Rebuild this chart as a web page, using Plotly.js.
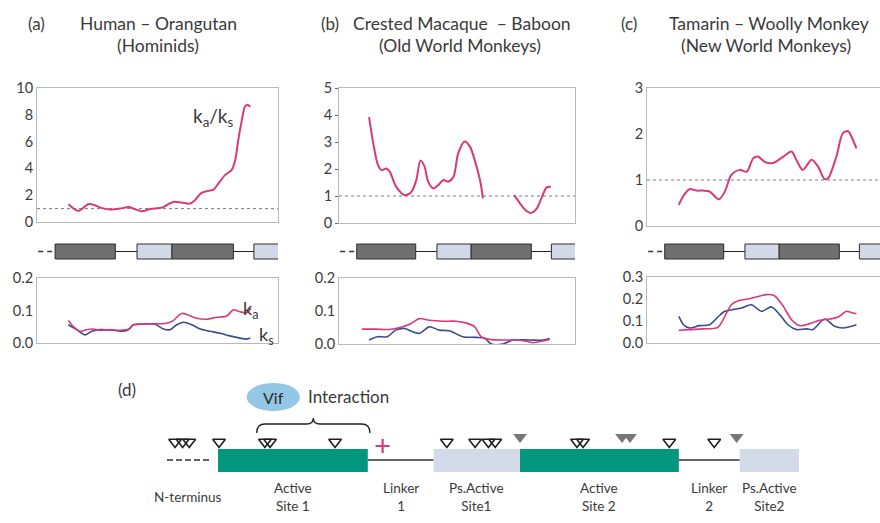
<!DOCTYPE html>
<html>
<head>
<meta charset="utf-8">
<script src="https://cdn.plot.ly/plotly-3.0.1.min.js"></script>
<style>html,body{margin:0;padding:0;background:#fff;}#chart{width:880px;height:523px;}</style>
</head>
<body>
<div id="chart"></div>
<script>
// ---------- Data ----------
// Panel (a) Human - Orangutan
const aRatioX = [52,69,85,96,105,121,138,152,160,174,188,207,215,226,240,254,262,273,284,293,301,312,323,329,334,340,345,349,354];
const aRatioY = [1.33,0.83,1.33,1.25,1.07,0.93,1.0,1.12,1.0,0.8,0.97,1.07,1.25,1.5,1.45,1.37,1.62,2.17,2.32,2.42,2.87,3.5,3.87,4.62,6.1,7.6,8.6,8.75,8.6];
const aKaX = [52,60,71,82,93,105,121,138,152,160,176,193,215,226,240,251,265,282,298,315,326,337,348,355];
const aKaY = [0.069,0.051,0.036,0.041,0.043,0.039,0.041,0.039,0.043,0.056,0.058,0.059,0.061,0.069,0.091,0.086,0.076,0.073,0.079,0.083,0.102,0.096,0.093,0.107];
const aKsX = [52,66,80,91,105,127,143,152,160,176,196,210,221,232,243,257,271,287,304,320,337,348,354];
const aKsY = [0.056,0.041,0.025,0.036,0.041,0.039,0.036,0.041,0.056,0.058,0.058,0.043,0.041,0.056,0.064,0.056,0.043,0.036,0.030,0.022,0.015,0.012,0.015];

// Panel (b) Crested Macaque - Baboon (gap where ratio undefined)
const bRatioX = [51,58,66,72,80,86,97,112,123,131,138,145,151,160,168,177,185,194,202,213,222,230,239,244,270,297,307,315,325,335,344,352,359];
const bRatioY = [3.92,2.96,2.15,1.96,2.02,1.9,1.34,1.03,1.16,1.59,2.31,2.09,1.53,1.28,1.4,1.59,1.53,1.71,2.58,3.02,2.83,2.33,1.59,0.91,null,1.03,0.72,0.5,0.37,0.53,0.97,1.32,1.34];
const bKaX = [39,62,85,108,122,136,153,176,198,215,230,241,255,283,306,329,346,357];
const bKaY = [0.045,0.045,0.044,0.052,0.062,0.077,0.072,0.069,0.069,0.064,0.052,0.022,0.014,0.012,0.012,0.004,0.009,0.014];
const bKsX = [51,65,82,96,111,125,136,153,170,187,210,232,247,258,278,295,323,346,357];
const bKsY = [0.012,0.022,0.022,0.042,0.047,0.037,0.032,0.052,0.042,0.04,0.022,0.02,0.017,0.0,0.0,0.012,0.012,0.012,0.017];

// Panel (c) Tamarin - Woolly Monkey
const cRatioX = [54,61,72,84,95,106,122,132,143,157,169,180,188,200,214,231,245,253,264,279,290,301,307,321,332,341,349,355];
const cRatioY = [0.46,0.64,0.8,0.77,0.77,0.75,0.58,0.75,1.11,1.22,1.18,1.47,1.51,1.39,1.37,1.51,1.62,1.44,1.22,1.44,1.29,1.02,1.04,1.51,2.02,2.06,1.87,1.69];
const cKaX = [54,72,95,120,132,143,157,171,185,202,216,231,245,259,276,293,310,324,338,346,355];
const cKaY = [0.058,0.061,0.064,0.071,0.121,0.174,0.194,0.2,0.209,0.22,0.215,0.167,0.106,0.079,0.088,0.103,0.109,0.118,0.144,0.139,0.133];
const cKsX = [54,62,72,89,106,120,132,146,160,177,194,211,225,239,253,270,281,301,318,332,355];
const cKsY = [0.121,0.083,0.068,0.079,0.083,0.118,0.144,0.152,0.159,0.174,0.144,0.164,0.129,0.083,0.061,0.064,0.061,0.109,0.076,0.068,0.083];

// Gene schematic above k plots (same axis units as the curves)
const geneLeader = [2, 26];
const geneStart = [30, 166, 224, 360];
const geneEnd   = [130, 224, 326, 402];
const geneKind  = ['active','pseudo','active','pseudo'];

// Panel (d) domain map (residue units)
const dLabels = ['N-terminus','Active<br>Site 1','Linker<br>1','Ps.Active<br>Site1','Active<br>Site 2','Linker<br>2','Ps.Active<br>Site2'];
const dStart  = [0, 31, 122, 162, 214.5, 311, 348];
const dEnd    = [26, 122, 162, 214.5, 311, 348, 384];
const dKind   = ['dash','active','linker','pseudo','active','linker','pseudo'];
const openTriX   = [4.9, 9.5, 13.5, 31.6, 59.5, 62.6, 102.1, 170, 187.2, 195.3, 199.4, 249.1, 252.8, 305.2, 332.5];
const filledTriX = [214.5, 276.5, 281.3, 346.1];
const crossX = [131];
const vifRange = [54.5, 123.3];

const panelTags = ['(a)','(b)','(c)'];
const panelLine1 = ['Human – Orangutan','Crested Macaque\u00a0 – Baboon','Tamarin – Woolly Monkey'];
const panelLine2 = ['(Hominids)','(Old World Monkeys)','(New World Monkeys)'];

// ---------- Styling / layout helpers ----------
const W = 880, H = 523;
const PINK = '#d8397a', BLUE = '#3c4a8e', TXT = '#3a3a3a', FRAME = '#b9b9b9';
const GREEN = '#03977f', PALE = '#d3dae8';
const FONT = 'Lato, "Open Sans", sans-serif';
const px = v => v / W;
const py = v => 1 - v / H;
const aaPerPx = 384 / 632;
const dOrigin = 167;

const traces = [];
function line(x, y, xa, ya, color, width) {
  traces.push({x, y, xaxis: xa, yaxis: ya, type: 'scatter', mode: 'lines',
    line: {color, width, shape: 'spline', smoothing: 0.8}, connectgaps: false, hoverinfo: 'skip', showlegend: false});
}
line(aRatioX, aRatioY, 'x', 'y', PINK, 2);
line(bRatioX, bRatioY, 'x2', 'y2', PINK, 2);
line(cRatioX, cRatioY, 'x3', 'y3', PINK, 2);
line(aKsX, aKsY, 'x4', 'y4', BLUE, 1.6);
line(aKaX, aKaY, 'x4', 'y4', PINK, 1.6);
line(bKsX, bKsY, 'x5', 'y5', BLUE, 1.6);
line(bKaX, bKaY, 'x5', 'y5', PINK, 1.6);
line(cKsX, cKsY, 'x6', 'y6', BLUE, 1.6);
line(cKaX, cKaY, 'x6', 'y6', PINK, 1.6);

// Panel (d) markers
traces.push({x: openTriX, y: openTriX.map(() => 442), xaxis: 'x7', yaxis: 'y7', type: 'scatter', mode: 'markers',
  marker: {symbol: 'triangle-down-open', size: 11, color: '#1e1e1e', line: {width: 1.6}}, hoverinfo: 'skip', showlegend: false});
traces.push({x: filledTriX, y: filledTriX.map(() => 437), xaxis: 'x7', yaxis: 'y7', type: 'scatter', mode: 'markers',
  marker: {symbol: 'triangle-down', size: 12, color: '#777777'}, hoverinfo: 'skip', showlegend: false});
traces.push({x: crossX, y: crossX.map(() => 446), xaxis: 'x7', yaxis: 'y7', type: 'scatter', mode: 'markers',
  marker: {symbol: 'cross-thin', size: 10, color: PINK, line: {color: PINK, width: 2.2}}, hoverinfo: 'skip', showlegend: false});

// ---------- Shapes ----------
const shapes = [];
// dotted ratio = 1 reference lines
[['x','y'],['x2','y2'],['x3','y3']].forEach(([xa, ya]) => {
  shapes.push({type: 'line', xref: xa + ' domain', yref: ya, x0: 0, x1: 1, y0: 1, y1: 1,
    line: {color: '#7a7a7a', width: 1, dash: 'dot'}, layer: 'below'});
});
// gene schematics
const gTop = py(244), gBot = py(259), gMid = py(251.5);
['x','x2','x3'].forEach(xa => {
  shapes.push({type: 'line', xref: xa, yref: 'paper', x0: geneLeader[0], x1: geneLeader[1], y0: gMid, y1: gMid,
    line: {color: '#333', width: 1.6, dash: '5px,4px'}});
  shapes.push({type: 'line', xref: xa, yref: 'paper', x0: geneStart[0], x1: geneStart[3], y0: gMid, y1: gMid,
    line: {color: '#222', width: 1}});
  geneStart.forEach((s, i) => {
    shapes.push({type: 'rect', xref: xa, yref: 'paper', x0: s, x1: geneEnd[i], y0: gBot, y1: gTop,
      fillcolor: geneKind[i] === 'active' ? '#707070' : '#d2d8e6', line: {color: '#2e2e2e', width: 1}});
  });
});
// panel (d) domain track
dStart.forEach((s, i) => {
  const k = dKind[i];
  if (k === 'dash') {
    shapes.push({type: 'line', xref: 'x7', yref: 'y7', x0: s, x1: dEnd[i], y0: 460, y1: 460, line: {color: '#333', width: 1.5, dash: '6px,3px'}});
  } else if (k === 'linker') {
    shapes.push({type: 'line', xref: 'x7', yref: 'y7', x0: s, x1: dEnd[i], y0: 460, y1: 460, line: {color: '#333', width: 1.3}});
  } else {
    shapes.push({type: 'rect', xref: 'x7', yref: 'y7', x0: s, x1: dEnd[i], y0: 449, y1: 472,
      fillcolor: k === 'active' ? GREEN : PALE, line: {width: 0}});
  }
});
// Vif interaction brace
{
  const a = vifRange[0], b = vifRange[1], m = (a + b) / 2;
  const path = `M ${a},433 Q ${a},424 ${a+5},424 L ${m-4},424 Q ${m},424 ${m},418 Q ${m},424 ${m+4},424 L ${b-5},424 Q ${b},424 ${b},433`;
  shapes.push({type: 'path', xref: 'x7', yref: 'y7', path, line: {color: '#222', width: 1.3}});
}
// Vif ellipse
shapes.push({type: 'circle', xref: 'x7', yref: 'y7', x0: 48.4, x1: 80.8, y0: 383, y1: 411, fillcolor: '#92c8e4', line: {width: 0}});

// ---------- Annotations ----------
const ann = [];
function txt(text, x, y, size, opts) {
  ann.push(Object.assign({text, x, y, xref: 'paper', yref: 'paper', showarrow: false,
    font: {family: FONT, size, color: TXT}, xanchor: 'center', yanchor: 'middle'}, opts || {}));
}
const tagX = [36, 330, 629], l1X = [158, 462, 769], l2X = [158, 460, 766];
panelTags.forEach((t, i) => {
  txt(t, px(tagX[i]), py(23), 17);
  txt(panelLine1[i], px(l1X[i]), py(23), 17.5);
  txt(panelLine2[i], px(l2X[i]), py(45), 17.5);
});
txt('k<sub>a</sub>/k<sub>s</sub>', px(213), py(117), 19);
txt('k<sub>a</sub>', px(250), py(309), 18);
txt('k<sub>s</sub>', px(266), py(335), 18);
txt('(d)', px(127), py(389), 17);
// panel (d) labels
dLabels.forEach((l, i) => {
  ann.push({text: l, x: (dStart[i] + dEnd[i]) / 2, y: 497, xref: 'x7', yref: 'y7', showarrow: false,
    font: {family: FONT, size: 13.5, color: TXT}, xanchor: 'center', yanchor: 'middle'});
});
ann.push({text: 'Vif', x: 64.6, y: 397, xref: 'x7', yref: 'y7', showarrow: false, font: {family: FONT, size: 16, color: '#2a2a2a'}});
ann.push({text: 'Interaction', x: 110, y: 396, xref: 'x7', yref: 'y7', showarrow: false, font: {family: FONT, size: 17, color: TXT}});

// ---------- Axes ----------
function xax(domain, range, anchor, mirror) {
  return {domain, range, anchor, showline: true, mirror, linecolor: FRAME, linewidth: 1,
    showticklabels: false, ticks: '', showgrid: false, zeroline: false, fixedrange: true};
}
function yax(domain, range, anchor, dtick, fmt, mirror, ticks) {
  return {domain, range, anchor, dtick, tickformat: fmt, showline: true, mirror, linecolor: FRAME, linewidth: 1,
    ticks: ticks || '', ticklen: 3, tickcolor: '#666', showgrid: false, zeroline: false, fixedrange: true,
    tickfont: {family: FONT, size: 14.5, color: '#3c3c3c'}};
}
const cRange = [0, 400 * (880 - 647) / 236];
const layout = {
  width: W, height: H, margin: {l: 0, r: 0, t: 0, b: 0}, paper_bgcolor: '#fff', plot_bgcolor: 'rgba(0,0,0,0)',
  showlegend: false,
  xaxis:  xax([px(37), px(278)], [0, 400], 'y', true),
  yaxis:  yax([py(222), py(88)], [0, 10], 'x', 2, '', true),
  xaxis2: xax([px(339), px(575)], [0, 400], 'y2', true),
  yaxis2: yax([py(223), py(88)], [0, 5], 'x2', 1, '', true, 'outside'),
  xaxis3: xax([px(647), 1], cRange, 'y3', true),
  yaxis3: yax([py(226), py(88)], [0, 3], 'x3', 1, '', false),
  xaxis4: xax([px(37), px(278)], [0, 400], 'y4', true),
  yaxis4: yax([py(343), py(278)], [0, 0.2], 'x4', 0.1, '.1f', true),
  xaxis5: xax([px(339), px(575)], [0, 400], 'y5', true),
  yaxis5: yax([py(344), py(278)], [0, 0.2], 'x5', 0.1, '.1f', true),
  xaxis6: xax([px(647), 1], cRange, 'y6', true),
  yaxis6: yax([py(343), py(277)], [0, 0.3], 'x6', 0.1, '.1f', false),
  xaxis7: {domain: [0, 1], range: [(0 - dOrigin) * aaPerPx, (W - dOrigin) * aaPerPx], anchor: 'y7', visible: false, fixedrange: true},
  yaxis7: {domain: [0, py(365)], range: [523, 365], anchor: 'x7', visible: false, fixedrange: true},
  shapes, annotations: ann
};
Plotly.newPlot('chart', traces, layout, {displayModeBar: false, staticPlot: true});
</script>
</body>
</html>
